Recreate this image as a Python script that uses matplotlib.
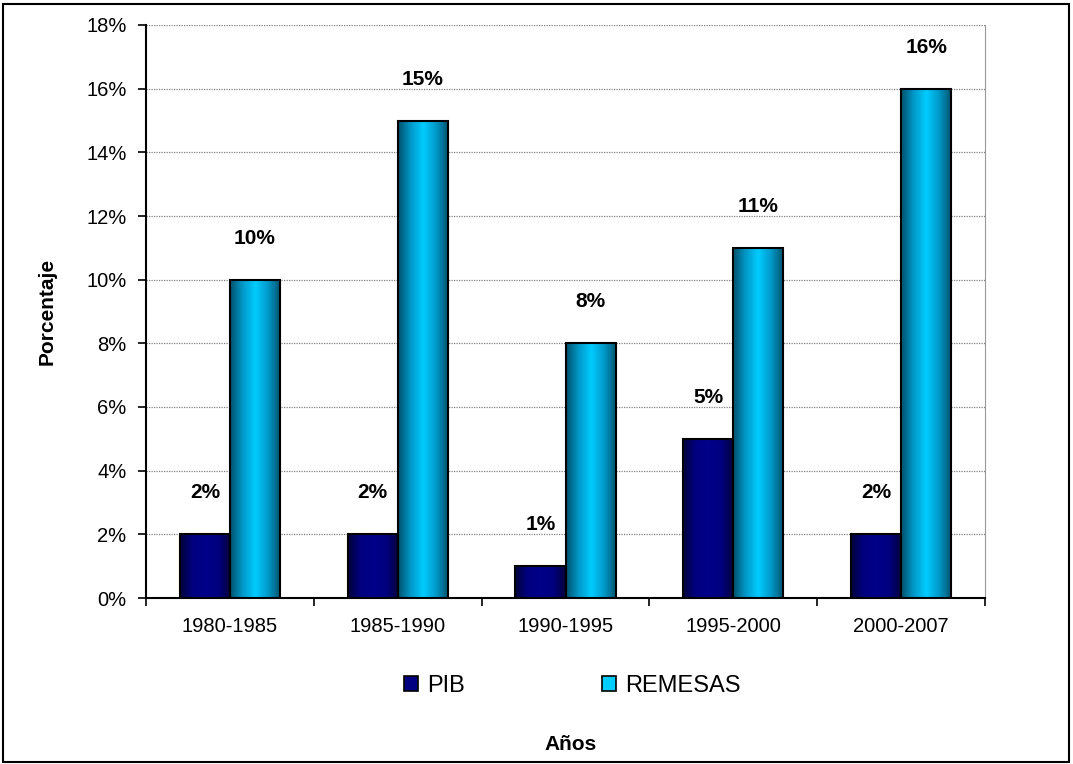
import matplotlib
matplotlib.use("Agg")
import matplotlib.pyplot as plt
import numpy as np
from matplotlib.patches import Rectangle, Patch
from matplotlib.colors import LinearSegmentedColormap

categories = ["1980-1985", "1985-1990", "1990-1995", "1995-2000", "2000-2007"]
pib = [2, 2, 1, 5, 2]
remesas = [10, 15, 8, 11, 16]
yticks = [0, 2, 4, 6, 8, 10, 12, 14, 16, 18]

plt.rcParams['font.family'] = ['Liberation Sans', 'DejaVu Sans']

W, H = 1073, 764
fig = plt.figure(figsize=(W/100, H/100), dpi=100)
ax = fig.add_axes([146/W, 1-598/H, (985-146)/W, (598-25)/H])

x = np.arange(len(categories))
bw = 0.298

cm_pib = LinearSegmentedColormap.from_list("p", ["#00003a", "#000080", "#00008a", "#000080", "#00003a"])
cm_rem = LinearSegmentedColormap.from_list("r", ["#00506a", "#0099c8", "#00ccff", "#0099c8", "#00506a"])
grad = np.linspace(0, 1, 256).reshape(1, -1)

def gbar(xc, h, cmap):
    left = xc - bw/2
    ax.imshow(grad, cmap=cmap, aspect='auto', extent=[left, left+bw, 0, h], zorder=3, interpolation='bilinear')
    ax.add_patch(Rectangle((left, 0), bw, h, fill=False, edgecolor='black', lw=1.5, zorder=4))

for i in range(len(categories)):
    gbar(x[i] - bw/2, pib[i], cm_pib)
    gbar(x[i] + bw/2, remesas[i], cm_rem)
    ax.text(x[i] - bw/2, pib[i] + 1.3, f"{pib[i]}%", ha='center', va='center', fontsize=15, fontweight='bold')
    ax.text(x[i] + bw/2, remesas[i] + 1.3, f"{remesas[i]}%", ha='center', va='center', fontsize=15, fontweight='bold')

ax.set_xlim(-0.5, len(categories) - 0.5)
ax.set_ylim(0, 18)
ax.set_yticks(yticks)
ax.set_yticklabels([f"{v}%" for v in yticks], fontsize=14.5)
ax.set_xticks(x)
ax.set_xticklabels(categories, fontsize=14.5)
ax.set_xticks(np.arange(-0.5, len(categories)), minor=True)
ax.tick_params(axis='x', which='major', length=0, pad=14)
ax.tick_params(axis='x', which='minor', length=6, width=1.2, direction='out')
ax.tick_params(axis='y', length=6, width=1.2, direction='out', pad=8)
ax.yaxis.grid(True, color='#808080', linestyle=(0, (1, 1)), lw=0.9, zorder=0)
ax.set_axisbelow(True)
ax.spines['top'].set_visible(False)
ax.spines['right'].set_color('#999999')
ax.spines['left'].set_linewidth(1.5)
ax.spines['bottom'].set_linewidth(1.5)

fig.text(47/W, 1-311/H, "Porcentaje", rotation=90, ha='center', va='center', fontsize=15, fontweight='bold')
fig.text(571/W, 1-745/H, "Años", ha='center', va='center', fontsize=15, fontweight='bold')

handles = [Patch(facecolor='#000080', edgecolor='black', lw=1.2),
           Patch(facecolor='#00ccff', edgecolor='black', lw=1.2)]
fig.legend(handles, ["PIB", "REMESAS"], loc='center', bbox_to_anchor=(572/W, 1-686/H),
           ncol=2, frameon=False, fontsize=17, handlelength=0.6, handleheight=0.6,
           handletextpad=0.38, columnspacing=5.8)

fig.add_artist(Rectangle((3/W, 2/H), (W-7)/W, (H-6)/H, transform=fig.transFigure,
                         fill=False, edgecolor='black', lw=1.5))

fig.savefig("out.png", dpi=100)
